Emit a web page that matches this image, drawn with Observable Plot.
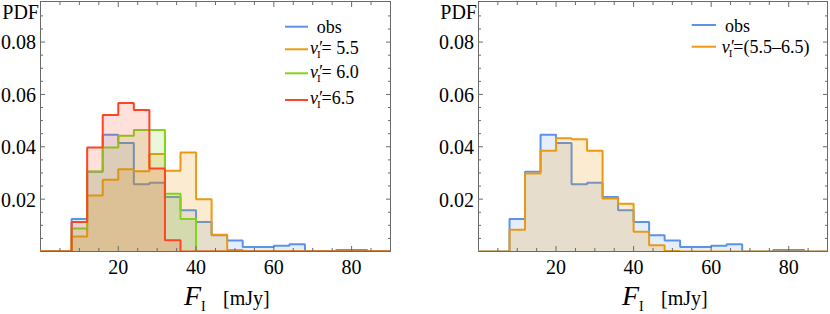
<!DOCTYPE html>
<html><head><meta charset="utf-8">
<script src="https://cdn.jsdelivr.net/npm/d3@7"></script>
<script src="https://cdn.jsdelivr.net/npm/@observablehq/plot@0.6"></script>
<style>
body{margin:0;background:#fff;}
#wrap{display:flex;width:830px;height:314px;overflow:hidden;}
#wrap svg text{font-family:"Liberation Serif","Times New Roman",serif !important;}
</style></head><body><div id="wrap"></div>
<script>
// bin left edges (mJy), width 4
const binStart = [0,4,8,12,16,20,24,28,32,36,40,44,48,52,56,60,64,68,72,76,80,84,88];
// PDF values per bin
const obs   = [0,0,0.0124,0.0305,0.0446,0.0414,0.0257,0.0263,0.0208,0.0158,0.0113,0.0062,0.0042,0.0017,0.0017,0.0022,0.0028,0,0,0.0006,0.0006,0,0];
const nu55  = [0,0,0.0057,0.0214,0.0274,0.0314,0.0307,0.0372,0.0308,0.0378,0.0200,0.0064,0.0006,0,0,0,0,0,0,0,0,0,0];
const nu60  = [0,0,0.0088,0.0306,0.0397,0.0442,0.0464,0.0464,0.0221,0.0124,0,0,0,0,0,0,0,0,0,0,0,0,0];
const nu65  = [0,0,0.0113,0.0397,0.0521,0.0567,0.0541,0.0317,0.0043,0,0,0,0,0,0,0,0,0,0,0,0,0,0];
const nuRng = [0,0,0.0083,0.0298,0.0385,0.0433,0.0429,0.0385,0.0202,0.0182,0.0075,0.0024,0.0002,0,0,0,0,0,0,0,0,0,0];

const xMajorTicks = [20,40,60,80];
const xMinorTicks = [5,10,15,25,30,35,45,50,55,65,70,75,85];
const yMajorTicks = [0.02,0.04,0.06,0.08];
const yMinorTicks = [0.005,0.01,0.015,0.025,0.03,0.035,0.045,0.05,0.055,0.065,0.07,0.075,0.085,0.09];

const legendLeft  = [{key:"obs"},{key:"nu55", val:"= 5.5"},{key:"nu60", val:"= 6.0"},{key:"nu65", val:"=6.5"}];
const legendRight = [{key:"obs"},{key:"nuRng", val:"=(5.5\u20136.5)"}];

const colors = {obs:"#5b93ea", nu55:"#e99a12", nu60:"#84d21a", nu65:"#fd4526", nuRng:"#e99a12"};
const fillOp = {obs:0.16, nu55:0.2, nu60:0.17, nu65:0.17, nuRng:0.2};
const FONT = "Liberation Serif, Times New Roman, serif";
const FRAME = "#6a6a6a";

function steps(values){
  const w = binStart[1]-binStart[0];
  const pts = binStart.map((x,i)=>({x, y: values[i]}));
  pts.push({x: binStart[binStart.length-1]+w, y: values[values.length-1]});
  return pts;
}

function seriesMarks(values, key){
  const pts = steps(values);
  const c = colors[key];
  return [
    Plot.areaY(pts, {x:"x", y:"y", curve:"step-after", fill:c, fillOpacity:fillOp[key], clip:true}),
    Plot.line(pts, {x:"x", y:"y", curve:"step-after", stroke:c, strokeWidth:2, strokeLinejoin:"miter", clip:true})
  ];
}

function tickMarks(){
  const o = {fill:"none", label:null, stroke:FRAME};
  return [
    Plot.axisX(xMajorTicks, {...o, anchor:"bottom", tickSize:5, dy:-5}),
    Plot.axisX(xMinorTicks, {...o, anchor:"bottom", tickSize:3, dy:-3}),
    Plot.axisX(xMajorTicks, {...o, anchor:"top", tickSize:5, dy:5}),
    Plot.axisX(xMinorTicks, {...o, anchor:"top", tickSize:3, dy:3}),
    Plot.axisY(yMajorTicks, {...o, anchor:"left", tickSize:5, dx:5}),
    Plot.axisY(yMinorTicks, {...o, anchor:"left", tickSize:3, dx:3}),
    Plot.axisY(yMajorTicks, {...o, anchor:"right", tickSize:5, dx:-5}),
    Plot.axisY(yMinorTicks, {...o, anchor:"right", tickSize:3, dx:-3})
  ];
}

function addText(sel, x, y, parts, anchor){
  const t = sel.append("text").attr("x", x).attr("y", y).attr("font-family", FONT).attr("fill", "black")
    .attr("text-anchor", anchor || "start");
  for (const p of parts){
    const ts = t.append("tspan").text(p.text);
    if (p.size) ts.attr("font-size", p.size);
    if (p.italic) ts.attr("font-style", "italic");
    if (p.dx != null) ts.attr("dx", p.dx);
    if (p.dy != null) ts.attr("dy", p.dy);
    if (p.x != null) ts.attr("x", p.x);
  }
  return t;
}

function panel(series, legend, ml, mr, leg){
  const svg = Plot.plot({
    width: 415, height: 314,
    marginLeft: ml, marginRight: mr, marginTop: 1, marginBottom: 63,
    x: {domain:[0,90]},
    y: {domain:[0,0.0955]},
    style: {fontFamily: FONT, fontSize: "20px", background: "white", overflow: "visible", color: "black"},
    marks: [
      Plot.frame({stroke: FRAME}),
      ...series.flatMap(k => seriesMarks(k.values, k.key)),
      ...tickMarks(),
      Plot.axisX(xMajorTicks, {anchor:"bottom", tickSize:0, tickPadding:8, label:null, fontSize: 20, fill:"black", tickFormat: d => String(d)}),
      Plot.axisY(yMajorTicks, {anchor:"left", tickSize:0, tickPadding:4.5, label:null, dy:1, fontSize: 20, fill:"black", tickFormat: d => d.toFixed(2)})
    ]
  });
  const s = d3.select(svg);
  // y label
  addText(s, ml - 1, 18.5, [{text:"PDF", size:20}], "end");
  // x label
  addText(s, ml + 144, 305, [
    {text:"F", size:28, italic:true},
    {text:"I", size:14, dy:6},
    {text:"[mJy]", size:20, dy:-6, x: ml + 183}
  ]);
  // legend
  const g = s.append("g");
  legend.forEach((e, i) => {
    const yl = leg.lineY[i];
    g.append("line").attr("x1", leg.x1).attr("x2", leg.x2).attr("y1", yl).attr("y2", yl)
      .attr("stroke", colors[e.key]).attr("stroke-width", 2);
    if (e.key === "obs") {
      addText(g, leg.obsX, leg.baseY[i], [{text:"obs", size:18}]);
    } else {
      addText(g, leg.nuX, leg.baseY[i], [
        {text:"\u03BD\u2032", size:18, italic:true},
        {text:"I", size:11, dx:-5, dy:4},
        {text:e.val, size:18, dx:1, dy:-4}
      ]);
    }
  });
  return svg;
}

const wrap = document.getElementById("wrap");
wrap.appendChild(panel(
  [{key:"obs", values:obs},{key:"nu55", values:nu55},{key:"nu60", values:nu60},{key:"nu65", values:nu65}],
  legendLeft, 40, 25,
  {x1:285, x2:308, lineY:[26.7,49.3,73.3,100], baseY:[33.3,54,78.3,104], obsX:316.7, nuX:310}
));
wrap.appendChild(panel(
  [{key:"obs", values:obs},{key:"nuRng", values:nuRng}],
  legendRight, 63, 3,
  {x1:276.7, x2:301, lineY:[25,46.7], baseY:[31.7,53.3], obsX:310, nuX:306.7}
));
</script></body></html>
